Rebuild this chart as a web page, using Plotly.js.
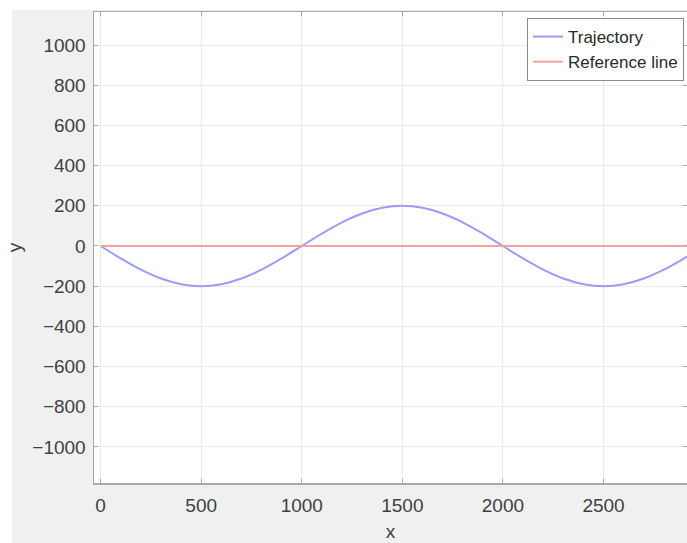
<!DOCTYPE html>
<html>
<head>
<meta charset="utf-8">
<script src="https://cdn.plot.ly/plotly-3.0.1.min.js"></script>
<style>html,body{margin:0;padding:0;background:#fff;}#chart{width:687px;height:543px;}</style>
</head>
<body>
<div id="chart"></div>
<script>
// Values
const trajX = [0,100,200,300,400,500,600,700,800,900,1000,1100,1200,1300,1400,1500,1600,1700,1800,1900,2000,2100,2200,2300,2400,2500,2600,2700,2800,2900,3000];
const trajY = [0,-62,-118,-162,-190,-200,-190,-162,-118,-62,0,62,118,162,190,200,190,162,118,62,0,-62,-118,-162,-190,-200,-190,-162,-118,-62,0];
const refX = [0, 3000];
const refY = [0, 0];
const xTicks = [0, 500, 1000, 1500, 2000, 2500];
const yTicks = [-1000, -800, -600, -400, -200, 0, 200, 400, 600, 800, 1000];

const W = 687, H = 543, ML = 94, MR = 0, MT = 12, MB = 60;
const pw = W - ML - MR, ph = H - MT - MB;
const FONT = 'Liberation Sans, Arial, sans-serif';

const traces = [
  {x: trajX, y: trajY, mode: 'lines', name: 'Trajectory',
   line: {color: '#9c9cf8', width: 2, shape: 'spline'}},
  {x: refX, y: refY, mode: 'lines', name: 'Reference line',
   line: {color: '#f7a0a0', width: 2}}
];

const axisCommon = {
  showgrid: true, gridcolor: '#ebebeb', gridwidth: 1,
  zeroline: false, showline: true, linecolor: '#a8a8a8', linewidth: 1.5,
  mirror: 'ticks', ticks: 'inside', ticklen: 4, tickcolor: '#a8a8a8',
  tickfont: {family: FONT, size: 19, color: '#404040'}
};

const layout = {
  width: W, height: H,
  margin: {l: ML, r: MR, t: MT, b: MB, autoexpand: false},
  paper_bgcolor: '#f0f0f0', plot_bgcolor: '#ffffff',
  showlegend: true,
  xaxis: Object.assign({}, axisCommon, {
    range: [-33, 2915], tickvals: xTicks, ticklabelstandoff: 5,
    title: {text: 'x', font: {family: FONT, size: 19, color: '#404040'}, standoff: 9}
  }),
  yaxis: Object.assign({}, axisCommon, {
    range: [-1180, 1165], tickvals: yTicks, ticklabelstandoff: 3,
    title: {text: 'y', font: {family: FONT, size: 19, color: '#404040'}, standoff: 5}
  }),
  legend: {
    x: (527 - ML) / pw, y: 1 - (18 - MT) / ph, xanchor: 'left', yanchor: 'top',
    bgcolor: '#ffffff', bordercolor: '#8a8a8a', borderwidth: 1,
    font: {family: FONT, size: 17, color: '#2a2a2a'},
    tracegroupgap: 0
  },
  shapes: [
    {type: 'rect', xref: 'paper', yref: 'paper', x0: -ML / pw - 0.01, x1: -(ML - 12) / pw,
     y0: -MB / ph - 0.01, y1: 1 + MT / ph + 0.01, fillcolor: '#ffffff', line: {width: 0}, layer: 'above'},
    {type: 'rect', xref: 'paper', yref: 'paper', x0: -ML / pw - 0.01, x1: 1.01,
     y0: 1 + 2 / ph, y1: 1 + MT / ph + 0.01, fillcolor: '#ffffff', line: {width: 0}, layer: 'above'}
  ]
};

Plotly.newPlot('chart', traces, layout, {displayModeBar: false, staticPlot: true});
</script>
</body>
</html>
